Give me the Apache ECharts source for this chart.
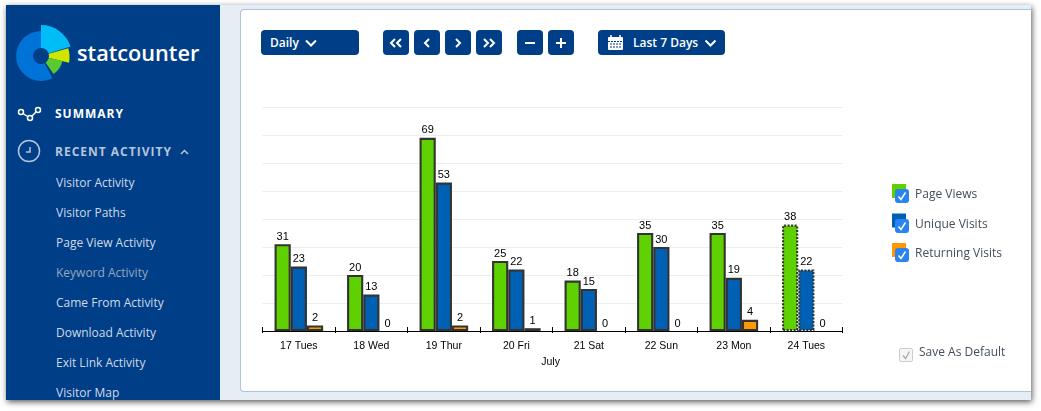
<!DOCTYPE html>
<html>
<head>
<meta charset="utf-8">
<title>statcounter</title>
<script src="https://cdn.jsdelivr.net/npm/echarts@6/dist/echarts.min.js"></script>
<style>
*{ padding:0; margin:0; box-sizing:border-box; }
html,body{ width:1041px; height:411px; background:#fff; overflow:hidden; font-family:"Open Sans",sans-serif; }
svg{ display:block; }
.page{ position:absolute; left:6px; top:5px; width:1025px; height:395px; background:#e6edf5; box-shadow:1px 2px 6px rgba(0,0,0,.65); }
.side{ position:absolute; left:6px; top:5px; width:214px; height:395px; background:#003f88; overflow:hidden; }
.panel{ position:absolute; left:240px; top:9px; width:791px; height:383px; background:#fff; border:1px solid #a9c4e0; border-right:0; border-radius:4px 0 0 4px; }
.logo{ position:absolute; left:0; top:0; }
.brand{ position:absolute; left:77px; top:38px; color:#fff; font-size:21.7px; font-weight:600; line-height:30px; }
.head{ position:absolute; font-size:12px; font-weight:700; letter-spacing:1px; line-height:16px; }
.item{ position:absolute; font-size:12px; line-height:16px; color:#cfd9e7; }
.btn{ position:absolute; top:30px; height:25px; background:#003f88; border-radius:4px; color:#fff; font-size:12px; font-weight:600; line-height:25px; }
.btn svg{ position:absolute; left:0; top:0; }
#chart{ position:absolute; left:0; top:0; width:1041px; height:411px; }
.check{ position:absolute; left:895px; width:14px; height:14px; background:#2a84f0; border-radius:3px; }
.default{ position:absolute; left:919px; top:344px; font-size:12px; line-height:16px; color:#444f5a; }
.defbox{ position:absolute; left:899px; top:348px; width:14px; height:14px; border:1px solid #ccc; border-radius:2px; background:#f6f6f6; }
</style>
</head>
<body>
<div class="page"></div>
<div class="panel"></div>

<!--左侧导航-->
<div class="side" id="side"></div>
<svg class="logo" width="220" height="170">
    <path d="M41 56 L52.35 78.3 A25 25 0 1 1 41 31 Z" fill="#0073d9"/>
    <path d="M41 56 L41 25 A31 31 0 0 1 70.5 46.4 Z" fill="#00bdf7"/>
    <path d="M41 56 L68.2 48.3 A28.3 28.3 0 0 1 69 62.7 Z" fill="#cfe600"/>
    <path d="M41 56 L62.4 60.9 A22 22 0 0 1 53.6 74 Z" fill="#5acb2f"/>
    <circle cx="41" cy="56" r="8" fill="#003f88"/>
    <g fill="none" stroke="#fff" stroke-width="1.5">
        <circle cx="21" cy="112" r="2.5"/><circle cx="30" cy="118" r="2.5"/><circle cx="38" cy="110" r="2.5"/>
        <path d="M23 113.5 L27.5 116.5 M32 116 L36 112"/>
    </g>
    <g fill="none" stroke="#b4c5dc" stroke-width="1.5">
        <circle cx="29" cy="151" r="10.5"/>
        <path d="M30 147 V152 H26"/>
        <path d="M181 154 L184.5 150.5 L188 154"/>
    </g>
</svg>
<div class="brand">statcounter</div>

<!--工具条-->
<div id="toolbar"></div>

<div id="chart"></div>

<div id="checks"></div>
<div class="defbox"><svg width="12" height="12"><path d="M3 6.5 L5.5 9.5 L9.5 2.5" fill="none" stroke="#aaa" stroke-width="1.3"/></svg></div>
<div class="default">Save As Default</div>

<script>
var categories = ['17 Tues', '18 Wed', '19 Thur', '20 Fri', '21 Sat', '22 Sun', '23 Mon', '24 Tues'];
var pageViews = [31, 20, 69, 25, 18, 35, 35, 38];
var uniqueVisits = [23, 13, 53, 22, 15, 30, 19, 22];
var returningVisits = [2, 0, 2, 1, 0, 0, 4, 0];
var seriesNames = ['Page Views', 'Unique Visits', 'Returning Visits'];
var axisName = 'July';
var navItems = ['Visitor Activity', 'Visitor Paths', 'Page View Activity', 'Keyword Activity', 'Came From Activity', 'Download Activity', 'Exit Link Activity', 'Visitor Map'];

// 导航
var sideHtml = '<div class="head" style="top:101px;color:#fff;left:49px">SUMMARY</div>' +
    '<div class="head" style="top:139px;color:#b4c5dc;left:49px">RECENT ACTIVITY</div>';
navItems.forEach(function (name, i) {
    sideHtml += '<div class="item" style="left:50px;top:' + (170 + i * 30) + 'px;' +
        (name == 'Keyword Activity' ? 'color:#97a6bd' : '') + '">' + name + '</div>';
});
document.getElementById('side').innerHTML = sideHtml;

// 按钮
function line(d) {
    return '<path d="' + d + '" fill="none" stroke="#fff" stroke-width="2"/>';
}
var buttons = [
    {x: 261, w: 98, text: 'Daily', tx: 9, icon: line('M45 10.5 L50 15.5 L55 10.5')},
    {x: 383, w: 26, icon: line('M12 9 L8 13 L12 17 M18 9 L14 13 L18 17')},
    {x: 414, w: 26, icon: line('M15 9 L11 13 L15 17')},
    {x: 445, w: 26, icon: line('M11 9 L15 13 L11 17')},
    {x: 476, w: 26, icon: line('M8 9 L12 13 L8 17 M14 9 L18 13 L14 17')},
    {x: 517, w: 26, icon: line('M8 13 H18')},
    {x: 548, w: 26, icon: line('M8 13 H18 M13 8 V18')},
    {x: 598, w: 127, text: 'Last 7 Days', tx: 35, icon:
        '<rect x="10" y="7" width="15" height="13" rx="1" fill="#fff"/>' +
        '<path d="M13 5 V9 M22 5 V9" stroke="#fff" stroke-width="1.5"/>' +
        '<path d="M10 11.5 H25 M12 14 H23 M12 17 H23" stroke="#003f88" stroke-width="1" stroke-dasharray="2 1"/>' +
        line('M107.5 10.5 L112.5 15.5 L117.5 10.5')}
];
var barHtml = '';
buttons.forEach(function (b) {
    barHtml += '<div class="btn" style="left:' + b.x + 'px;width:' + b.w + 'px">' +
        '<svg width="' + b.w + '" height="25">' + b.icon + '</svg>' +
        (b.text ? '<span style="position:absolute;left:' + b.tx + 'px">' + b.text + '</span>' : '') + '</div>';
});
document.getElementById('toolbar').innerHTML = barHtml;

// 图例复选框
var checkTops = [189, 219, 248];
var checkHtml = '';
checkTops.forEach(function (top) {
    checkHtml += '<div class="check" style="top:' + top + 'px"><svg width="14" height="14">' +
        '<path d="M3.5 7.5 L6 10.5 L10.5 3.5" fill="none" stroke="#fff" stroke-width="1.5"/></svg></div>';
});
document.getElementById('checks').innerHTML = checkHtml;

var seriesData = [pageViews, uniqueVisits, returningVisits];
var seriesColors = ['#5fd000', '#0060b4', '#ff9900'];

var chart = echarts.init(document.getElementById('chart'));
var option = {
    animation: false,
    textStyle: {fontFamily: '"Liberation Sans", Arial, sans-serif'},
    grid: {left: 262.6, right: 198.4, top: 107, bottom: 80},
    legend: {
        orient: 'vertical',
        left: 892,
        top: 184,
        padding: 0,
        itemWidth: 14,
        itemHeight: 14,
        itemGap: 12.5,
        selectedMode: false,
        icon: 'rect',
        itemStyle: {borderWidth: 0},
        formatter: '{t|{name}}',
        textStyle: {
            rich: {t: {fontFamily: '"Open Sans"', fontSize: 12, color: '#444f5a', padding: [8, 0, 0, 4]}}
        },
        data: seriesNames
    },
    xAxis: [{
        type: 'category',
        data: categories,
        name: axisName,
        nameLocation: 'middle',
        nameGap: 26,
        nameTextStyle: {color: '#000', fontSize: 10.5, padding: [0, 4, 0, 0]},
        axisLine: {lineStyle: {color: '#000', width: 1}},
        axisTick: {show: true, inside: true, length: 4, lineStyle: {color: '#000'}},
        axisLabel: {color: '#000', fontSize: 10.5, margin: 10}
    }, {
        // 刻度线穿过轴线，下半截单独画
        type: 'category',
        position: 'bottom',
        data: categories,
        axisLine: {show: false},
        axisTick: {show: true, length: 2, lineStyle: {color: '#000'}},
        axisLabel: {show: false}
    }],
    yAxis: {
        type: 'value',
        min: 0,
        max: 80,
        interval: 10,
        axisLabel: {show: false},
        axisLine: {show: false},
        axisTick: {show: false},
        splitLine: {lineStyle: {color: '#eeeeee'}}
    },
    series: seriesNames.map(function (name, s) {
        return {
            name: name,
            type: 'bar',
            barWidth: 16.2,
            barGap: 0,
            itemStyle: {color: seriesColors[s], borderColor: '#333', borderWidth: 2.1},
            label: {show: true, position: 'top', distance: 2, color: '#000', fontSize: 11},
            data: seriesData[s].map(function (v, i) {
                var style = {};
                // 当天数据未完成用虚线
                if (i == categories.length - 1) style.borderType = [2, 1.5];
                if (v == 0) style.borderWidth = 0;
                return {value: v, itemStyle: style};
            })
        };
    })
};
chart.setOption(option);
</script>
</body>
</html>
